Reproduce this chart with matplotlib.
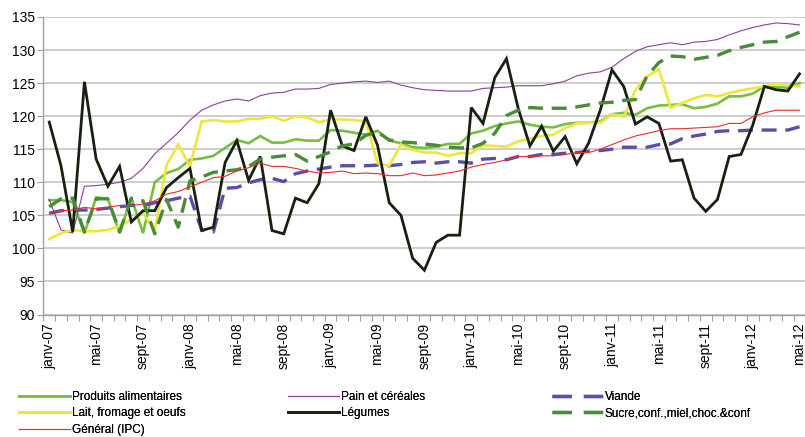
import numpy as np
import matplotlib
matplotlib.use('Agg')
import matplotlib.pyplot as plt
from matplotlib.lines import Line2D

plt.rcParams['font.family'] = ['Liberation Sans', 'DejaVu Sans']

# monthly index values, janv-07 .. mai-12 (65 months)
produits = [107.3, 107.3, 107.0, 102.3, 107.7, 107.5, 102.3, 107.7, 102.3, 110.0,
            111.4, 112.0, 113.4, 113.6, 114.0, 115.2, 116.4, 115.9, 117.0, 116.0,
            116.0, 116.5, 116.3, 116.3, 117.9, 117.8, 117.5, 117.2, 117.8, 116.3,
            115.9, 115.3, 115.2, 115.4, 115.8, 115.8, 117.4, 117.8, 118.5, 118.9,
            119.2, 118.7, 118.4, 118.3, 118.8, 119.0, 119.0, 119.2, 120.3, 120.5,
            120.2, 121.2, 121.6, 121.7, 121.8, 121.2, 121.4, 121.9, 123.0, 123.0,
            123.4, 124.5, 124.4, 124.3, 125.0]
pain = [107.4, 102.8, 102.3, 109.4, 109.5, 109.7, 110.0, 110.6, 112.1, 114.3,
        115.9, 117.5, 119.4, 120.9, 121.7, 122.3, 122.6, 122.3, 123.1, 123.5,
        123.6, 124.1, 124.1, 124.2, 124.8, 125.0, 125.2, 125.3, 125.1, 125.3,
        124.7, 124.3, 124.0, 123.9, 123.8, 123.8, 123.8, 124.2, 124.3, 124.4,
        124.6, 124.6, 124.6, 124.9, 125.3, 126.1, 126.5, 126.7, 127.4, 128.7,
        129.8, 130.5, 130.8, 131.1, 130.8, 131.2, 131.3, 131.6, 132.3, 132.9,
        133.4, 133.8, 134.1, 134.0, 133.8]
viande = [105.3, 105.7, 105.8, 105.8, 105.9, 106.1, 106.3, 106.5, 106.5, 106.9,
          107.2, 107.6, 107.9, 102.8, 102.5, 109.1, 109.2, 109.9, 110.4, 110.6,
          110.1, 111.3, 111.7, 112.0, 112.3, 112.5, 112.5, 112.5, 112.6, 112.5,
          112.7, 113.0, 113.1, 112.9, 113.1, 113.1, 112.9, 113.5, 113.6, 113.4,
          113.9, 113.9, 114.2, 114.2, 114.4, 114.5, 114.7, 114.8, 115.0, 115.3,
          115.3, 115.3, 115.7, 115.8, 116.6, 117.0, 117.3, 117.7, 117.8, 117.8,
          117.9, 117.9, 117.9, 117.9, 118.4]
lait = [101.4, 102.3, 102.8, 102.6, 102.6, 102.8, 103.4, 104.3, 105.3, 102.7,
        112.6, 115.7, 112.4, 119.2, 119.4, 119.2, 119.2, 119.6, 119.6, 120.0,
        119.3, 120.0, 119.8, 119.1, 119.5, 119.5, 119.4, 119.2, 112.9, 112.5,
        115.7, 114.9, 114.5, 114.5, 114.0, 114.4, 114.4, 115.6, 115.5, 115.4,
        116.2, 116.6, 117.0, 117.2, 118.2, 118.9, 119.0, 119.0, 120.3, 119.9,
        124.0, 126.0, 127.1, 121.3, 122.0, 122.7, 123.2, 123.0, 123.5, 123.9,
        124.2, 124.5, 124.9, 124.7, 124.5]
legumes = [119.1, 112.5, 102.5, 125.2, 113.5, 109.4, 112.4, 104.0, 105.7, 105.7,
           109.2, 110.7, 112.1, 102.7, 103.2, 113.0, 116.3, 110.3, 113.9, 102.7,
           102.2, 107.6, 106.9, 109.8, 120.9, 115.5, 114.8, 119.9, 115.6, 106.9,
           105.0, 98.5, 96.7, 100.9, 102.0, 102.0, 121.3, 118.9, 125.8, 128.7,
           121.2, 115.5, 118.5, 114.7, 116.9, 112.8, 115.9, 120.9, 127.0, 124.5,
           118.8, 119.9, 118.9, 113.2, 113.4, 107.6, 105.6, 107.4, 113.9, 114.2,
           118.6, 124.5, 124.0, 123.8, 126.4]
sucre = [106.3, 107.5, 107.6, 102.5, 107.5, 107.5, 102.5, 107.6, 107.2, 102.2,
         107.4, 103.2, 110.2, 110.8, 111.5, 111.7, 111.9, 112.4, 113.5, 113.8,
         114.0, 114.2, 113.2, 113.9, 114.6, 115.5, 115.8, 117.1, 117.6, 116.4,
         116.1, 116.0, 115.8, 115.6, 115.3, 115.2, 115.2, 115.9, 117.4, 120.1,
         120.9, 121.3, 121.2, 121.2, 121.2, 121.4, 121.7, 122.0, 122.1, 122.4,
         122.5, 126.1, 128.1, 129.1, 129.0, 128.6, 128.9, 129.2, 129.9, 130.4,
         130.8, 131.2, 131.3, 132.0, 132.7]
general = [105.2, 105.7, 105.8, 106.2, 106.0, 106.2, 106.5, 106.5, 106.7, 107.2,
           108.2, 108.6, 109.3, 110.0, 110.7, 110.9, 111.7, 112.2, 112.9, 112.4,
           112.4, 112.1, 111.7, 111.4, 111.5, 111.7, 111.3, 111.4, 111.3, 111.0,
           111.0, 111.4, 111.0, 111.1, 111.4, 111.7, 112.3, 112.7, 113.0, 113.4,
           113.9, 113.9, 114.0, 114.0, 114.2, 114.5, 114.5, 115.0, 115.7, 116.4,
           117.0, 117.4, 117.8, 118.1, 118.1, 118.2, 118.3, 118.4, 118.9, 118.9,
           119.9, 120.5, 120.9, 120.9, 120.9]

tick_labels = ['janv-07', 'mai-07', 'sept-07', 'janv-08', 'mai-08', 'sept-08',
               'janv-09', 'mai-09', 'sept-09', 'janv-10', 'mai-10', 'sept-10',
               'janv-11', 'mai-11', 'sept-11', 'janv-12', 'mai-12']

x = np.arange(len(produits))

fig = plt.figure(figsize=(8.05, 4.37), dpi=100)
ax = fig.add_axes([43.4 / 805, 1 - 314.5 / 437, 762 / 805, 297.5 / 437])

lines = [
    ('Produits alimentaires', produits, dict(color='#76bf42', lw=1.9)),
    ('Pain et céréales', pain, dict(color='#8e3d9e', lw=0.8)),
    ('Viande', viande, dict(color='#5a4fa6', lw=2.4, dashes=(4.5, 2.6))),
    ('Lait, fromage et oeufs', lait, dict(color='#f0e53a', lw=1.9)),
    ('Légumes', legumes, dict(color='#16210f', lw=2.0)),
    ('Sucre,conf.,miel,choc.&conf', sucre, dict(color='#4a8a3b', lw=2.4, dashes=(4.5, 2.6))),
    ('Général (IPC)', general, dict(color='#ee2b2b', lw=0.8)),
]
handles = {}
for name, vals, style in lines:
    ax.plot(x, vals, label=name, solid_joinstyle='miter', **style)
    # legend proxy: dashed series show two long dashes in the key
    key_style = dict(style)
    if 'dashes' in key_style:
        key_style['dashes'] = (5.8, 3.6)
    handles[name] = Line2D([], [], **key_style)

ax.set_xlim(-0.5, len(x) - 0.5)
ax.set_ylim(90, 135)
ax.set_yticks(range(90, 136, 5))
ax.grid(axis='y', color='#c6c6c6', lw=1.2)
ax.set_axisbelow(True)

ax.set_xticks(np.arange(0, len(x), 4))
ax.set_xticklabels(tick_labels, rotation=90, fontsize=10)
ax.set_xticks(np.arange(-0.5, len(x), 1), minor=True)
ax.tick_params(axis='x', which='major', length=0, pad=6)
ax.tick_params(axis='x', which='minor', length=4, color='#a0a0a0', width=0.8)
ax.tick_params(axis='y', length=4, color='#a0a0a0', width=0.8, labelsize=10, pad=2)

for s in ['top', 'right']:
    ax.spines[s].set_visible(False)
for s in ['left', 'bottom']:
    ax.spines[s].set_color('#a0a0a0')
    ax.spines[s].set_linewidth(1.0)

legend_font = dict(size=8.5)
cols = [
    (['Produits alimentaires', 'Lait, fromage et oeufs', 'Général (IPC)'], 19),
    (['Pain et céréales', 'Légumes'], 288),
    (['Viande', 'Sucre,conf.,miel,choc.&conf'], 552),
]
for names, px in cols:
    leg = fig.legend([handles[n] for n in names], names, loc='upper left',
                     bbox_to_anchor=(px / 805, 1 - 391 / 437), frameon=False,
                     prop=legend_font, handlelength=4.3, handletextpad=0.15,
                     labelspacing=0.38, borderpad=0, borderaxespad=0)
    fig.add_artist(leg)

fig.savefig('out.png', dpi=100)
